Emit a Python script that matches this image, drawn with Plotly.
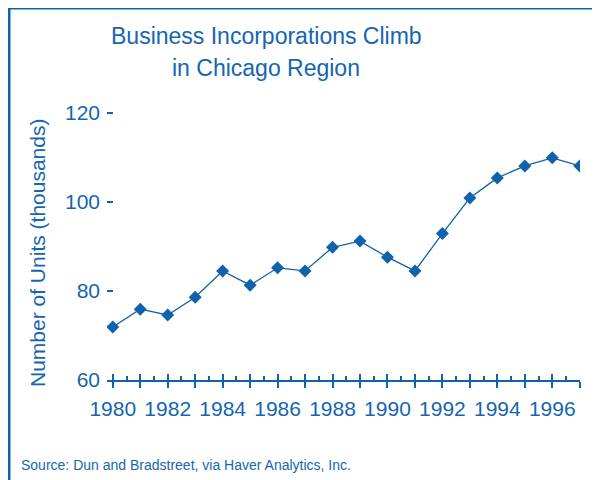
import plotly.graph_objects as go

years = list(range(1980, 1998))
units = [71.9, 75.9, 74.6, 78.6, 84.5, 81.3, 85.2, 84.5, 89.8, 91.2,
         87.6, 84.5, 92.9, 100.9, 105.4, 108.1, 109.9, 108.1]
x_labels = [str(y) if y % 2 == 0 else "" for y in years]
y_ticks = [60, 80, 100, 120]

BLUE = "#0f62ab"
TXT = "#1565b0"
FONT = "Liberation Sans, Arial, sans-serif"

# page offset from the default 8px body margin
OFF = 8
FW, FH = 600 - OFF, 480 - OFF
# plot area in page pixels: left 107, right 580, top 104, bottom 380
PL, PR, PT, PB = 107, 580, 104, 380
L, R, T, B = PL - OFF, FW - (PR - OFF), PT - OFF, FH - (PB - OFF)
W = PR - PL
H = PB - PT

def px(xp):
    return (xp - PL) / W

def py(yp):
    return (PB - yp) / H

fig = go.Figure()
fig.add_trace(go.Scatter(
    x=years, y=units, mode="lines+markers",
    line=dict(color=BLUE, width=1.3),
    marker=dict(symbol="diamond", size=10, color=BLUE),
    showlegend=False, hoverinfo="x+y",
))
fig.add_trace(go.Scatter(x=[], y=[], xaxis="x2", yaxis="y", showlegend=False))

xr = [1979.79, 1997.01]
fig.update_layout(
    width=FW, height=FH,
    margin=dict(l=L, r=R, t=T, b=B),
    paper_bgcolor="white", plot_bgcolor="white",
    font=dict(family=FONT, color=TXT),
    xaxis=dict(
        range=xr, showgrid=False, zeroline=False,
        showline=True, linecolor=BLUE, linewidth=1.6,
        tickmode="array", tickvals=years, ticktext=x_labels,
        ticks="outside", ticklen=6, tickwidth=1.8, tickcolor=BLUE,
        ticklabelstandoff=3,
        tickfont=dict(size=21, color=TXT, family=FONT),
    ),
    xaxis2=dict(
        range=xr, overlaying="x", anchor="y", side="bottom",
        showgrid=False, zeroline=False, showline=False,
        showticklabels=False,
        tickmode="array", tickvals=years,
        ticks="inside", ticklen=6, tickwidth=1.8, tickcolor=BLUE,
        minor=dict(tickmode="linear", tick0=1979.5, dtick=1,
                   ticks="inside", ticklen=4, tickwidth=1.8, tickcolor=BLUE),
    ),
    yaxis=dict(
        range=[60, 122], showgrid=False, zeroline=False, showline=False,
        tickmode="array", tickvals=y_ticks,
        ticks="inside", ticklen=6, tickwidth=1.5, tickcolor=BLUE,
        ticklabelstandoff=6,
        tickfont=dict(size=21, color=TXT, family=FONT),
    ),
)

for line, base in (("Business Incorporations Climb", 45),
                   ("in Chicago Region", 77)):
    fig.add_annotation(
        text=line, xref="paper", yref="paper", x=px(266), y=py(base + 6),
        xanchor="center", yanchor="bottom", showarrow=False,
        font=dict(size=23, color=TXT, family=FONT),
    )
fig.add_annotation(
    text="Number of Units (thousands)",
    xref="paper", yref="paper", x=px(37), y=py(253),
    xanchor="center", yanchor="middle", textangle=-90, showarrow=False,
    font=dict(size=21, color=TXT, family=FONT),
)
fig.add_annotation(
    text="Source: Dun and Bradstreet, via Haver Analytics, Inc.",
    xref="paper", yref="paper", x=px(19), y=py(465),
    xanchor="left", yanchor="middle", showarrow=False,
    font=dict(size=14, color=TXT, family=FONT),
)
fig.add_shape(
    type="path", xref="paper", yref="paper",
    path=f"M {px(9)} {py(490)} L {px(9)} {py(8)} L {px(610)} {py(8)}",
    line=dict(color=BLUE, width=3),
)

fig.write_html("out.html")
